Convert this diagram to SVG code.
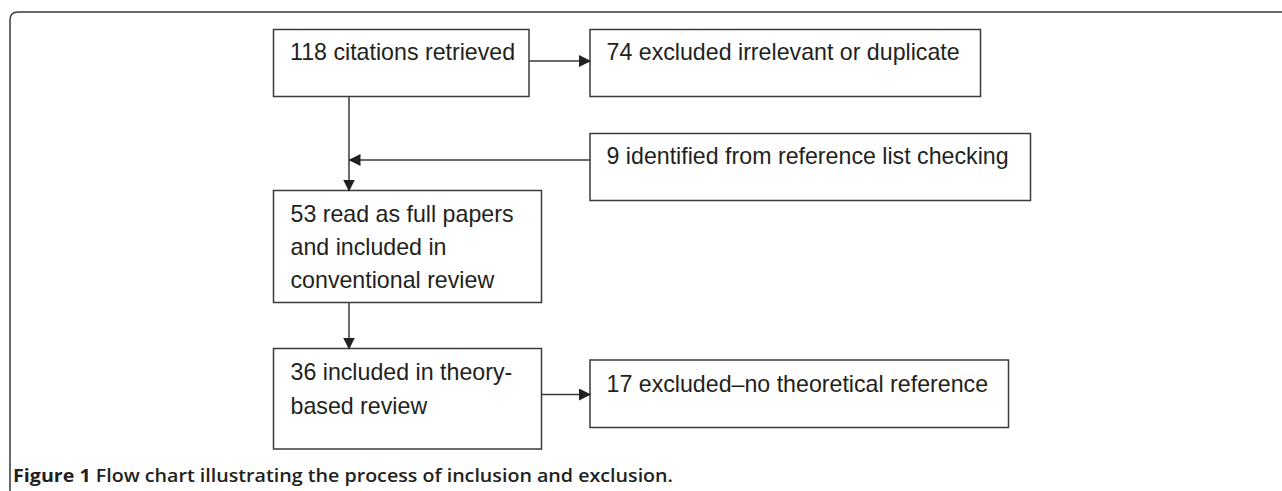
<svg xmlns="http://www.w3.org/2000/svg" width="1282" height="491" viewBox="0 0 1282 491">
<style>
.box{fill:#fff;stroke:#3a3a3a;stroke-width:1.5}
.t{font-family:"Liberation Sans",Arial,sans-serif;font-size:23.2px;fill:#231f20}
.c{stroke:#3a3a3a;stroke-width:1.5;fill:none}
.frame{stroke:#3a3a3a;stroke-width:1.5;fill:none}
.cap{font-family:"Open Sans","Noto Sans",sans-serif;font-size:18px;fill:#231f20;font-weight:600}
</style>
<defs>
<marker id="ah" markerWidth="12" markerHeight="12" refX="11" refY="6" orient="auto" markerUnits="userSpaceOnUse">
<path d="M0,0 L12,6 L0,12 Z" fill="#231f20"/>
</marker>
</defs>
<rect x="0" y="0" width="1282" height="491" fill="#fff"/>
<path class="frame" d="M10,491 V20 Q10,12 18,12 H1282"/>
<g id="n1"><rect class="box" x="273.5" y="29.5" width="255.5" height="67"/><text class="t" x="290" y="60">118 citations retrieved</text></g>
<g id="n2"><rect class="box" x="590" y="29.5" width="390.5" height="67"/><text class="t" x="606.5" y="60">74 excluded irrelevant or duplicate</text></g>
<g id="n3"><rect class="box" x="590" y="133.5" width="440.5" height="67"/><text class="t" x="606.5" y="164">9 identified from reference list checking</text></g>
<g id="n4"><rect class="box" x="273.5" y="190.5" width="268" height="112"/><text class="t" x="290.5" y="221.5">53 read as full papers</text><text class="t" x="290.5" y="255">and included in</text><text class="t" x="290.5" y="288">conventional review</text></g>
<g id="n5"><rect class="box" x="273.5" y="348.5" width="268" height="100.5"/><text class="t" x="290.5" y="379.5">36 included in theory-</text><text class="t" x="290.5" y="413.5">based review</text></g>
<g id="n6"><rect class="box" x="590" y="360" width="418.5" height="67.5"/><text class="t" x="606.5" y="391.5">17 excluded–no theoretical reference</text></g>
<g id="connectors">
<path class="c" d="M529,61 H590" marker-end="url(#ah)"/>
<path class="c" d="M349,96.5 V190.5" marker-end="url(#ah)"/>
<path class="c" d="M590,160 H349.5" marker-end="url(#ah)"/>
<path class="c" d="M349,302.5 V348.5" marker-end="url(#ah)"/>
<path class="c" d="M541.5,394.5 H590" marker-end="url(#ah)"/>
</g>
<text class="cap" x="13" y="482" textLength="660" lengthAdjust="spacingAndGlyphs"><tspan font-weight="700">Figure 1</tspan> Flow chart illustrating the process of inclusion and exclusion.</text>
</svg>
